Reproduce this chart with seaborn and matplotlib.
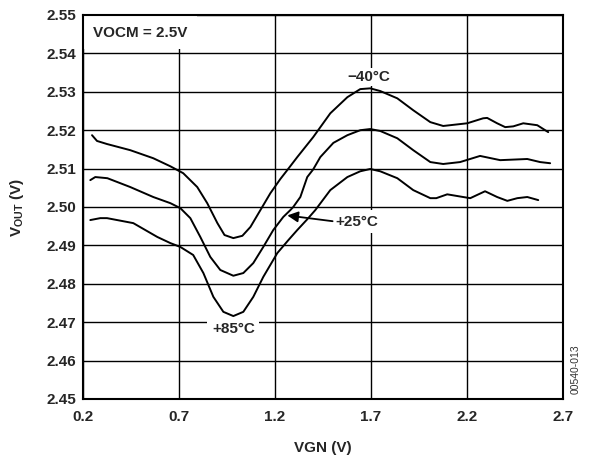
import matplotlib
matplotlib.use("Agg")
import matplotlib.pyplot as plt
import pandas as pd
import seaborn as sns

# Output common-mode voltage vs. gain control voltage, three temperatures
vgn_m40 = [0.247, 0.273, 0.325, 0.446, 0.566, 0.655, 0.722, 0.795, 0.847, 0.900,
           0.937, 0.983, 1.030, 1.072, 1.124, 1.176, 1.228, 1.270, 1.316, 1.399,
           1.488, 1.577, 1.644, 1.696, 1.748, 1.837, 1.920, 2.009, 2.076, 2.201,
           2.284, 2.305, 2.357, 2.399, 2.441, 2.493, 2.566, 2.623]
vout_m40 = [2.5187, 2.5172, 2.5164, 2.5148, 2.5127, 2.5106, 2.5088, 2.5052, 2.5010, 2.4958,
            2.4927, 2.4919, 2.4925, 2.4948, 2.4992, 2.5036, 2.5073, 2.5100, 2.5130, 2.5182,
            2.5244, 2.5286, 2.5307, 2.5309, 2.5302, 2.5283, 2.5252, 2.5221, 2.5211, 2.5218,
            2.5231, 2.5232, 2.5218, 2.5208, 2.5210, 2.5218, 2.5213, 2.5195]

vgn_p25 = [0.238, 0.264, 0.327, 0.446, 0.566, 0.655, 0.707, 0.759, 0.811, 0.863,
           0.915, 0.983, 1.035, 1.087, 1.139, 1.191, 1.243, 1.280, 1.295, 1.332,
           1.368, 1.399, 1.436, 1.504, 1.577, 1.644, 1.696, 1.748, 1.837, 1.920,
           2.009, 2.076, 2.164, 2.268, 2.373, 2.514, 2.581, 2.633]
vout_p25 = [2.5070, 2.5078, 2.5075, 2.5052, 2.5026, 2.5010, 2.4997, 2.4971, 2.4922, 2.4870,
            2.4836, 2.4821, 2.4828, 2.4854, 2.4896, 2.4940, 2.4974, 2.4992, 2.5000, 2.5026,
            2.5078, 2.5098, 2.5130, 2.5167, 2.5187, 2.5200, 2.5203, 2.5198, 2.5179, 2.5148,
            2.5117, 2.5112, 2.5117, 2.5133, 2.5122, 2.5125, 2.5117, 2.5114]

vgn_p85 = [0.238, 0.290, 0.325, 0.462, 0.587, 0.655, 0.707, 0.774, 0.827, 0.879,
           0.931, 0.983, 1.035, 1.087, 1.139, 1.212, 1.270, 1.316, 1.368, 1.410,
           1.488, 1.577, 1.644, 1.696, 1.748, 1.837, 1.920, 2.009, 2.040, 2.097,
           2.180, 2.217, 2.294, 2.357, 2.410, 2.462, 2.514, 2.571]
vout_p85 = [2.4966, 2.4971, 2.4971, 2.4958, 2.4922, 2.4906, 2.4896, 2.4875, 2.4828, 2.4766,
            2.4727, 2.4716, 2.4727, 2.4766, 2.4818, 2.4880, 2.4914, 2.4940, 2.4968, 2.4992,
            2.5044, 2.5078, 2.5093, 2.5099, 2.5093, 2.5075, 2.5044, 2.5023, 2.5023, 2.5033,
            2.5026, 2.5023, 2.5041, 2.5026, 2.5016, 2.5023, 2.5026, 2.5018]

temps = ["\u221240\u00b0C", "+25\u00b0C", "+85\u00b0C"]
x_ticks = [0.2, 0.7, 1.2, 1.7, 2.2, 2.7]
x_tick_labels = ["0.2", "0.7", "1.2", "1.7", "2.2", "2.7"]
y_ticks = [2.45, 2.46, 2.47, 2.48, 2.49, 2.50, 2.51, 2.52, 2.53, 2.54, 2.55]
y_tick_labels = ["2.45", "2.46", "2.47", "2.48", "2.49", "2.50",
                 "2.51", "2.52", "2.53", "2.54", "2.55"]

sns.set_style("white")
plt.rcParams["font.family"] = ["Liberation Sans", "DejaVu Sans"]
plt.rcParams["mathtext.fontset"] = "custom"
plt.rcParams["mathtext.rm"] = "Liberation Sans:bold"
plt.rcParams["mathtext.it"] = "Liberation Sans:bold"
plt.rcParams["mathtext.bf"] = "Liberation Sans:bold"

df = pd.concat([
    pd.DataFrame({"VGN": vgn_m40, "VOUT": vout_m40, "temp": temps[0]}),
    pd.DataFrame({"VGN": vgn_p25, "VOUT": vout_p25, "temp": temps[1]}),
    pd.DataFrame({"VGN": vgn_p85, "VOUT": vout_p85, "temp": temps[2]}),
], ignore_index=True)

fig = plt.figure(figsize=(5.91, 4.55), dpi=100)
ax = fig.add_axes([83 / 591, 1 - 399 / 455, 480 / 591, 384 / 455])

sns.lineplot(data=df, x="VGN", y="VOUT", units="temp", estimator=None, sort=False,
             color="black", lw=1.4, ax=ax, legend=False, zorder=3)
for ln in ax.get_lines():
    ln.set_solid_joinstyle("round")

ax.set_xlim(0.2, 2.7)
ax.set_ylim(2.45, 2.55)
ax.set_xticks(x_ticks)
ax.set_xticklabels(x_tick_labels, fontsize=11, fontweight="bold")
ax.set_yticks(y_ticks)
ax.set_yticklabels(y_tick_labels, fontsize=11, fontweight="bold")
ax.tick_params(axis="both", length=0)
ax.tick_params(axis="x", pad=8)
ax.tick_params(axis="y", pad=5)

ax.set_axisbelow(True)
ax.grid(True, color="black", lw=1.0)
for sp in ax.spines.values():
    sp.set_color("black")
    sp.set_linewidth(1.5)

ax.set_xlabel("VGN (V)", fontsize=11, fontweight="bold", labelpad=12)
ax.set_ylabel(r"V$_{\mathrm{OUT}}$ (V)", fontsize=11, fontweight="bold")
ax.yaxis.set_label_coords(-0.118, 0.5)

# Curve annotations
ax.text(0.254, 2.5454, "VOCM = 2.5V", fontsize=11, fontweight="bold",
        ha="left", va="center", zorder=2.4,
        bbox=dict(boxstyle="square,pad=0.6", fc="white", ec="none"))
ax.text(1.69, 2.5339, temps[0], fontsize=11, fontweight="bold",
        ha="center", va="center", zorder=2.4,
        bbox=dict(boxstyle="square,pad=0.12", fc="white", ec="none"))
ax.text(1.515, 2.4962, temps[1], fontsize=11, fontweight="bold",
        ha="left", va="center", zorder=2.4,
        bbox=dict(boxstyle="square,pad=0.3", fc="white", ec="none"))
ax.annotate("", xy=(1.264, 2.4978), xytext=(1.50, 2.4963),
            arrowprops=dict(arrowstyle="-|>", color="black", lw=1.3,
                            mutation_scale=16, shrinkA=0, shrinkB=0),
            zorder=4)
ax.text(0.983, 2.4681, temps[2], fontsize=11, fontweight="bold",
        ha="center", va="center", zorder=2.4,
        bbox=dict(boxstyle="square,pad=0.3", fc="white", ec="none"))

fig.text(576 / 591, 1 - 369 / 455, "00540-013", rotation=90, fontsize=7.5,
         color="#333333", ha="center", va="center")

fig.savefig("out.png", dpi=100)
